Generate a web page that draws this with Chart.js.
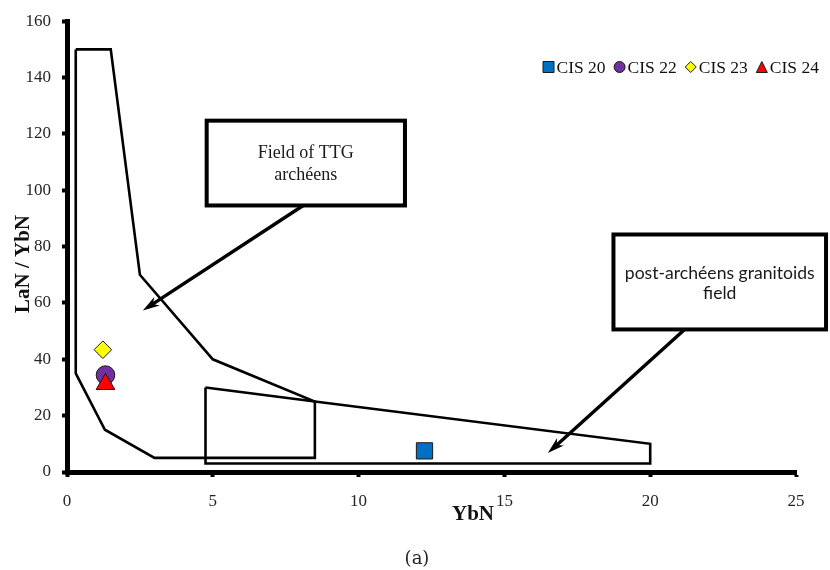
<!DOCTYPE html>
<html>
<head>
<meta charset="utf-8">
<script src="https://cdn.jsdelivr.net/npm/chart.js@4.4.1/dist/chart.umd.min.js"></script>
<style>
html,body{margin:0;padding:0;background:#fff;}
#wrap{width:830px;height:570px;position:relative;}
</style>
</head>
<body>
<div id="wrap"><canvas id="c" width="830" height="570"></canvas></div>
<script>
// ---- data ----
const xTicks = [0, 5, 10, 15, 20, 25];
const yTicks = [0, 20, 40, 60, 80, 100, 120, 140, 160];
const seriesNames = ['CIS 20', 'CIS 22', 'CIS 23', 'CIS 24'];
const ybN = [12.26, 1.32, 1.23, 1.32];
const laNYbN = [7.5, 34.4, 43.4, 31.2];
const ttgFieldX = [0.3, 1.5, 2.5, 5, 8.5, 8.5, 3, 1.3, 0.3, 0.3];
const ttgFieldY = [150, 150, 70, 40, 25, 5, 5, 15, 35, 150];
const postFieldX = [4.75, 8.5, 20, 20, 4.75, 4.75];
const postFieldY = [30, 25, 10, 3, 3, 30];
const xTitle = 'YbN';
const yTitle = 'LaN / YbN';
const caption = '(a)';
const ttgLabel = ['Field of TTG', 'archéens'];
const postLabel = ['post-archéens granitoids', 'field'];

// ---- styles ----
const markerStyles = [
  {pointStyle: 'rect', radius: 11.5, bg: '#0070C0'},
  {pointStyle: 'circle', radius: 9.3, bg: '#7030A0'},
  {pointStyle: 'rectRot', radius: 8.8, bg: '#FFFF00'},
  {pointStyle: 'triangle', radius: 10.8, bg: '#FF0000'}
];
const drawOrder = [4, 3, 2, 1];

const toXY = (xs, ys) => xs.map((x, i) => ({x: x, y: ys[i]}));

const datasets = seriesNames.map((name, i) => ({
  label: name,
  data: [{x: ybN[i], y: laNYbN[i]}],
  pointStyle: markerStyles[i].pointStyle,
  pointRadius: markerStyles[i].radius,
  pointBackgroundColor: markerStyles[i].bg,
  pointBorderColor: '#1a1a1a',
  pointBorderWidth: 1,
  order: drawOrder[i]
}));
[[ttgFieldX, ttgFieldY], [postFieldX, postFieldY]].forEach(([xs, ys], k) => {
  datasets.push({
    label: k === 0 ? 'TTG field' : 'post field',
    data: toXY(xs, ys),
    showLine: true,
    pointRadius: 0,
    borderColor: '#000',
    borderWidth: 2.6,
    borderJoinStyle: 'miter',
    fill: false,
    tension: 0,
    order: 10
  });
});

// callout boxes positioned in data units
const callouts = [
  {x0: 4.79, x1: 11.59, y0: 124.7, y1: 94.6, lines: ttgLabel, font: '18px "Liberation Serif"', lh: 22, dy: 1.5,
   arrowFrom: [8.1, 94.6], arrowTo: [2.6, 57.3]},
  {x0: 18.74, x1: 26.03, y0: 84.3, y1: 50.6, lines: postLabel, font: '17.6px Lato', lh: 20, dy: 1.5,
   arrowFrom: [21.18, 50.6], arrowTo: [16.49, 6.7]}
];

function shape(ctx, style, x, y, s) {
  ctx.beginPath();
  if (style === 'rect') {
    ctx.rect(x - s / 2, y - s / 2, s, s);
  } else if (style === 'circle') {
    ctx.arc(x, y, s / 2, 0, Math.PI * 2);
  } else if (style === 'rectRot') {
    ctx.moveTo(x, y - s / 2); ctx.lineTo(x + s / 2, y); ctx.lineTo(x, y + s / 2); ctx.lineTo(x - s / 2, y);
    ctx.closePath();
  } else {
    ctx.moveTo(x, y - s / 2); ctx.lineTo(x + s / 2, y + s / 2); ctx.lineTo(x - s / 2, y + s / 2);
    ctx.closePath();
  }
  ctx.fill(); ctx.stroke();
}

const decor = {
  id: 'decor',
  afterDatasetsDraw(chart) {
    const ctx = chart.ctx;
    const xs = chart.scales.x, ys = chart.scales.y;
    ctx.save();
    callouts.forEach(c => {
      const l = xs.getPixelForValue(c.x0), r = xs.getPixelForValue(c.x1);
      const t = ys.getPixelForValue(c.y0), b = ys.getPixelForValue(c.y1);
      const fx = xs.getPixelForValue(c.arrowFrom[0]), fy = ys.getPixelForValue(c.arrowFrom[1]);
      const tx = xs.getPixelForValue(c.arrowTo[0]), ty = ys.getPixelForValue(c.arrowTo[1]);
      const ang = Math.atan2(ty - fy, tx - fx);
      const hl = 17, hw = 5;
      const bx = tx - Math.cos(ang) * hl, by = ty - Math.sin(ang) * hl;
      ctx.strokeStyle = '#000'; ctx.lineWidth = 3.4; ctx.lineCap = 'butt';
      ctx.beginPath(); ctx.moveTo(fx, fy); ctx.lineTo(tx - Math.cos(ang) * 8, ty - Math.sin(ang) * 8); ctx.stroke();
      ctx.fillStyle = '#000';
      ctx.beginPath();
      ctx.moveTo(tx, ty);
      ctx.lineTo(bx + Math.sin(ang) * hw, by - Math.cos(ang) * hw);
      ctx.lineTo(tx - Math.cos(ang) * 12, ty - Math.sin(ang) * 12);
      ctx.lineTo(bx - Math.sin(ang) * hw, by + Math.cos(ang) * hw);
      ctx.closePath(); ctx.fill();
      ctx.fillStyle = '#fff';
      ctx.fillRect(l, t, r - l, b - t);
      ctx.lineWidth = 4; ctx.strokeStyle = '#000'; ctx.lineJoin = 'miter';
      ctx.strokeRect(l, t, r - l, b - t);
      ctx.fillStyle = '#1a1a1a';
      ctx.font = c.font; ctx.textAlign = 'center'; ctx.textBaseline = 'middle';
      const cx = (l + r) / 2, cy = (t + b) / 2 + c.dy;
      c.lines.forEach((ln, i) => {
        ctx.fillText(ln, cx, cy + (i - (c.lines.length - 1) / 2) * c.lh);
      });
    });
    ctx.restore();
  },
  afterDraw(chart) {
    const ctx = chart.ctx;
    ctx.save();
    // legend
    ctx.font = '17.5px "Liberation Serif"';
    ctx.textBaseline = 'middle'; ctx.textAlign = 'left';
    let x = 543; const y = 67;
    seriesNames.forEach((name, i) => {
      ctx.fillStyle = markerStyles[i].bg; ctx.strokeStyle = '#1a1a1a'; ctx.lineWidth = 1;
      shape(ctx, markerStyles[i].pointStyle, x + 5.5, y, 11);
      x += 13.5;
      ctx.fillStyle = '#111';
      ctx.fillText(name, x, y + 1);
      x += ctx.measureText(name).width + 8.5;
    });
    // axis titles
    ctx.fillStyle = '#111';
    ctx.font = 'bold 21px "Liberation Serif"';
    ctx.textAlign = 'center';
    ctx.fillText(xTitle, 473, 515);
    ctx.save();
    ctx.translate(24, 264);
    ctx.rotate(-Math.PI / 2);
    ctx.fillText(yTitle, 0, 0);
    ctx.restore();
    // caption
    ctx.font = '18px "DejaVu Serif"';
    ctx.fillStyle = '#222';
    ctx.fillText(caption, 417, 559);
    ctx.restore();
  }
};

const tickFont = {family: 'Liberation Serif', size: 17};

new Chart(document.getElementById('c'), {
  type: 'scatter',
  data: {datasets: datasets},
  options: {
    responsive: false,
    animation: false,
    events: [],
    layout: {padding: {left: 0, right: 34, top: 21, bottom: 0}},
    plugins: {legend: {display: false}, tooltip: {enabled: false}, title: {display: false}},
    scales: {
      x: {
        type: 'linear', min: 0, max: 25,
        afterBuildTicks: s => { s.ticks = xTicks.map(v => ({value: v})); },
        afterFit: s => { s.height = 98; },
        ticks: {font: tickFont, color: '#262626', padding: 14, maxRotation: 0},
        grid: {drawOnChartArea: false, drawTicks: true, tickLength: 5, tickWidth: 4, tickColor: '#000'},
        border: {display: true, width: 5, color: '#000'}
      },
      y: {
        type: 'linear', min: 0, max: 160,
        afterBuildTicks: s => { s.ticks = yTicks.map(v => ({value: v})); },
        afterFit: s => { s.width = 67; },
        ticks: {font: tickFont, color: '#262626', padding: 11},
        grid: {drawOnChartArea: false, drawTicks: true, tickLength: 5, tickWidth: 4, tickColor: '#000'},
        border: {display: true, width: 5, color: '#000'}
      }
    }
  },
  plugins: [decor]
});
</script>
</body>
</html>
